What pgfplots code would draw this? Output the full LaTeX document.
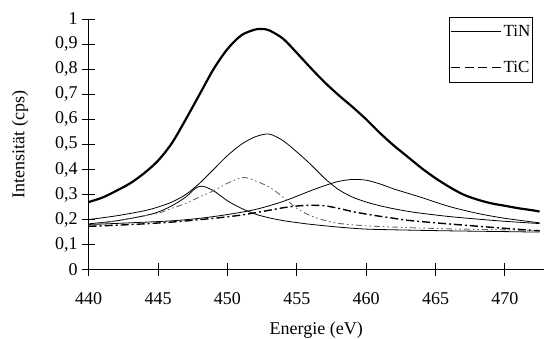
\documentclass[border=0pt]{standalone}
\usepackage{pgfplots}
\pgfplotsset{compat=1.18}
\usepackage{fontspec}
\setmainfont{Liberation Serif}
\begin{document}
\begin{tikzpicture}[font=\fontsize{18}{21}\selectfont]
\begin{axis}[name=ax,
  scale only axis, width=455pt, height=250.7pt,
  xmin=440, xmax=472.8, ymin=0, ymax=1,
  axis x line=bottom, axis y line=left,
  axis line style={-, line width=0.8pt},
  xtick={440,445,...,470}, ytick={0,0.1,...,1.0},
  tick align=center, major tick length=13pt,
  tick style={line width=0.8pt, black},
  /pgf/number format/assume math mode=true,
  /pgf/number format/use comma,
  /pgf/number format/fixed, /pgf/number format/precision=1,
  yticklabel style={xshift=-1pt},
  xticklabel style={yshift=-13pt},
  xlabel={Energie (eV)}, ylabel={Intensität (cps)},
  xlabel style={yshift=-10pt},
  ylabel style={yshift=20pt},
  legend style={at={(rel axis cs:0.977,1.008)}, anchor=north east, draw=black, line width=0.8pt,
    font=\fontsize{17}{20}\selectfont, row sep=19pt, inner xsep=1pt, inner ysep=6pt,
    nodes={inner xsep=1.5pt}},
  legend cell align=left,
  legend image code/.code={\draw[#1] (5pt,0pt) -- (55pt,0pt);},
  every axis plot/.append style={line join=round},
]
\addlegendimage{black, line width=0.9pt}
\addlegendentry{TiN}
\addlegendimage{black, line width=1.5pt, dash pattern=on 9pt off 4.5pt}
\addlegendentry{TiC}
% envelope
\addplot[black, line width=2.2pt, smooth, forget plot] coordinates {
(440,0.270)(441,0.288)(442,0.315)(443,0.345)(444,0.385)(445,0.435)(446,0.505)
(447,0.600)(448,0.700)(449,0.800)(450,0.880)(451,0.935)(452,0.958)(452.5,0.960)
(453,0.955)(454,0.922)(455,0.865)(456,0.805)(457,0.748)(458,0.697)(459,0.650)
(460,0.600)(461,0.545)(462,0.495)(463,0.450)(464,0.405)(465,0.365)(466,0.330)
(467,0.300)(468,0.280)(469,0.265)(470,0.255)(471,0.245)(472,0.237)(472.5,0.232)};
% TiN main
\addplot[black, line width=0.8pt, smooth, forget plot] coordinates {
(440,0.200)(442,0.215)(444,0.235)(445,0.250)(446,0.270)(447,0.300)(448,0.345)
(449,0.400)(450,0.455)(451,0.500)(452,0.530)(453,0.541)(454,0.515)(455,0.470)
(456,0.420)(457,0.365)(458,0.320)(459,0.290)(460,0.270)(461,0.255)(462,0.243)
(463,0.233)(464,0.225)(466,0.212)(468,0.202)(470,0.193)(472.5,0.184)};
% low component
\addplot[black, line width=0.8pt, smooth, forget plot] coordinates {
(440,0.183)(442,0.195)(444,0.215)(445,0.230)(446,0.255)(447,0.290)(447.7,0.325)
(448.2,0.333)(449,0.315)(450,0.275)(451,0.245)(452,0.222)(453,0.207)(454,0.196)
(455,0.188)(456,0.181)(458,0.170)(460,0.162)(463,0.158)(466,0.155)(470,0.152)(472.5,0.150)};
% high component
\addplot[black, line width=0.8pt, smooth, forget plot] coordinates {
(440,0.180)(443,0.187)(446,0.195)(448,0.205)(450,0.220)(452,0.240)(454,0.272)
(456,0.315)(457,0.335)(458,0.352)(459,0.360)(460,0.357)(461,0.342)(462,0.322)
(463,0.305)(464,0.288)(466,0.252)(468,0.225)(470,0.205)(472.5,0.187)};
% TiC 1
\addplot[black!60, line width=0.9pt, smooth, dash pattern=on 6pt off 3pt on 1.5pt off 3pt on 1.5pt off 3pt, forget plot] coordinates {
(440,0.177)(442,0.195)(444,0.215)(445,0.225)(446,0.245)(447,0.265)(448,0.290)
(449,0.315)(450,0.345)(451,0.367)(451.5,0.365)(452,0.355)(453,0.330)(454,0.290)
(455,0.245)(456,0.215)(457,0.197)(458,0.185)(460,0.175)(463,0.168)(466,0.163)
(470,0.159)(472.5,0.157)};
% TiC 2
\addplot[black, line width=1.4pt, smooth, dash pattern=on 8pt off 3pt on 2pt off 3pt, forget plot] coordinates {
(440,0.173)(443,0.180)(446,0.190)(449,0.205)(451,0.218)(453,0.237)(454,0.247)
(455,0.254)(456,0.257)(457,0.255)(458,0.245)(459,0.232)(460,0.222)(461,0.213)
(462,0.205)(463,0.197)(465,0.187)(467,0.178)(470,0.165)(472.5,0.155)};
\end{axis}
\pgfresetboundingbox
\path[use as bounding box] (ax.south west) ++(-88.7pt,-68.3pt) rectangle ([xshift=456.3pt,yshift=269.7pt]ax.south west);
\end{tikzpicture}
\end{document}
